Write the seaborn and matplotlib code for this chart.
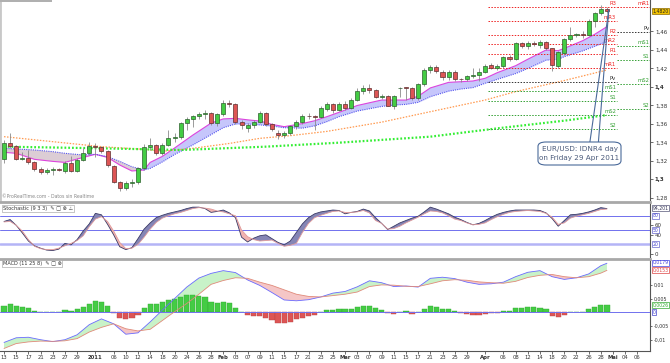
import numpy as np
import pandas as pd
import matplotlib
matplotlib.use("Agg")
import matplotlib.pyplot as plt
import seaborn as sns
from matplotlib.patches import FancyBboxPatch, Rectangle
import matplotlib.transforms as mtransforms

sns.set_theme(style="white")
plt.rcParams['font.family'] = ['DejaVu Sans']

# ---------------- data ----------------
dates = pd.bdate_range("2010-12-13", "2011-04-29")
axis_days = pd.bdate_range("2010-12-13", "2011-05-06")

opens = [1.3222,1.3391,1.3362,1.3222,1.3236,1.3185,1.3110,1.3085,1.3105,1.3108,
1.3090,1.3180,1.3088,1.3215,1.3290,1.3365,1.3348,1.3310,1.3150,1.2970,
1.2905,1.2965,1.2970,1.3120,1.3355,1.3370,1.3283,1.3373,1.3445,1.3457,
1.3610,1.3650,1.3686,1.3708,1.3718,1.3607,1.3708,1.3826,1.3815,1.3625,
1.3560,1.3589,1.3625,1.3718,1.3597,1.3502,1.3477,1.3502,1.3575,1.3618,
1.3690,1.3683,1.3680,1.3762,1.3820,1.3755,1.3820,1.3773,1.3863,1.3960,
1.3986,1.3964,1.3896,1.3900,1.3798,1.3985,1.3993,1.3986,1.3878,1.4030,
1.4184,1.4213,1.4166,1.4105,1.4166,1.4087,1.4083,1.4123,1.4130,1.4160,
1.4238,1.4202,1.4227,1.4328,1.4299,1.4475,1.4445,1.4479,1.4455,1.4490,
1.4418,1.4230,1.4364,1.4519,1.4562,1.4565,1.4562,1.4717,1.4797,1.4840]
closes = [1.3395,1.3362,1.3222,1.3236,1.3185,1.3110,1.3085,1.3105,1.3108,1.3105,
1.3180,1.3088,1.3215,1.3290,1.3365,1.3355,1.3310,1.3157,1.2970,1.2905,
1.2967,1.2975,1.3120,1.3348,1.3370,1.3283,1.3373,1.3445,1.3463,1.3607,
1.3650,1.3686,1.3708,1.3718,1.3607,1.3708,1.3826,1.3815,1.3625,1.3589,
1.3589,1.3625,1.3718,1.3597,1.3546,1.3477,1.3502,1.3575,1.3618,1.3690,
1.3683,1.3680,1.3772,1.3820,1.3755,1.3820,1.3773,1.3863,1.3960,1.3986,
1.3964,1.3896,1.3900,1.3798,1.3900,1.3993,1.3990,1.3878,1.4030,1.4184,
1.4213,1.4173,1.4105,1.4166,1.4087,1.4083,1.4120,1.4130,1.4160,1.4232,
1.4202,1.4227,1.4328,1.4299,1.4479,1.4445,1.4479,1.4460,1.4490,1.4420,
1.4238,1.4382,1.4519,1.4562,1.4565,1.4562,1.4717,1.4797,1.4840,1.4822]
highs = [1.3430,1.3500,1.3375,1.3300,1.3320,1.3195,1.3130,1.3120,1.3130,1.3125,
1.3200,1.3250,1.3235,1.3340,1.3400,1.3390,1.3365,1.3320,1.3160,1.2985,
1.2980,1.3000,1.3130,1.3380,1.3450,1.3380,1.3390,1.3535,1.3500,1.3620,
1.3680,1.3700,1.3730,1.3752,1.3730,1.3720,1.3860,1.3860,1.3830,1.3640,
1.3610,1.3640,1.3740,1.3725,1.3610,1.3530,1.3520,1.3590,1.3640,1.3710,
1.3720,1.3700,1.3790,1.3840,1.3830,1.3840,1.3850,1.3880,1.3990,1.4020,
1.4030,1.3980,1.3920,1.3910,1.3910,1.4000,1.4000,1.3995,1.4040,1.4200,
1.4240,1.4235,1.4180,1.4180,1.4180,1.4100,1.4130,1.4200,1.4210,1.4250,
1.4260,1.4250,1.4340,1.4350,1.4490,1.4490,1.4500,1.4500,1.4510,1.4500,
1.4425,1.4390,1.4530,1.4650,1.4580,1.4600,1.4730,1.4810,1.4886,1.4860]
lows = [1.3180,1.3345,1.3210,1.3210,1.3170,1.3090,1.3060,1.3060,1.3050,1.3090,
1.3065,1.3080,1.3080,1.3200,1.3270,1.3240,1.3290,1.3140,1.2960,1.2875,
1.2886,1.2915,1.2950,1.3100,1.3320,1.3260,1.3265,1.3360,1.3400,1.3440,
1.3535,1.3570,1.3650,1.3650,1.3590,1.3580,1.3690,1.3780,1.3600,1.3550,
1.3517,1.3560,1.3610,1.3580,1.3520,1.3440,1.3450,1.3480,1.3550,1.3600,
1.3650,1.3535,1.3660,1.3740,1.3720,1.3740,1.3750,1.3760,1.3850,1.3920,
1.3940,1.3880,1.3870,1.3790,1.3760,1.3895,1.3860,1.3860,1.3860,1.4010,
1.4150,1.4150,1.4080,1.4080,1.4070,1.4050,1.4060,1.4100,1.4060,1.4150,
1.4190,1.4180,1.4210,1.4280,1.4290,1.4420,1.4410,1.4440,1.4420,1.4400,
1.4170,1.4210,1.4350,1.4500,1.4540,1.4530,1.4550,1.4650,1.4780,1.4800]

# moving averages (bar index -> price)
ma_bars = [0,2,5,8,10,13,15,17,19,21,23,24,26,28,31,34,36,38,40,42,44,46,49,51,53,55,58,62,64,66,68,70,73,75,77,79,81,84,86,89,91,92,95,97,99]
ma_fast = [1.3294,1.3283,1.3218,1.3196,1.3185,1.3239,1.3272,1.3239,1.3157,1.3092,1.3103,1.3185,1.3250,1.3340,1.3480,1.3610,1.3655,1.3661,1.3645,1.3632,1.3596,1.3571,1.3605,1.3635,1.3679,1.3726,1.3800,1.3859,1.3859,1.3859,1.3900,1.3990,1.4050,1.4057,1.4065,1.4094,1.4155,1.4230,1.4300,1.4400,1.4393,1.4418,1.4500,1.4570,1.4652]
ma_slow = [1.3337,1.3330,1.3319,1.3301,1.3283,1.3265,1.3272,1.3247,1.3196,1.3138,1.3103,1.3120,1.3190,1.3270,1.3373,1.3485,1.3560,1.3600,1.3600,1.3590,1.3578,1.3560,1.3555,1.3580,1.3625,1.3679,1.3740,1.3790,1.3805,1.3812,1.3834,1.3895,1.3955,1.3978,1.3993,1.4040,1.4083,1.4145,1.4200,1.4290,1.4300,1.4328,1.4390,1.4440,1.4490]
ma50_bars = [0,8,16,23,26,31,37,42,47,53,62,70,79,84,92,99]
ma50 = [1.3463,1.3409,1.3355,1.3326,1.3305,1.3337,1.3390,1.3445,1.3474,1.3520,1.3620,1.3733,1.3859,1.3950,1.4070,1.4184]
ma200_bars = [0,16,29,43,55,70,81,92,99]
ma200 = [1.3355,1.3337,1.3319,1.3355,1.3398,1.3463,1.3553,1.3636,1.3697]

apr_piv_names = ["R3","mR3","R2","mR2","R1","mR1","Pv","mS1","S1","mS2","S2"]
apr_piv_vals = [1.4868,1.4714,1.4562,1.4462,1.4357,1.4209,1.4051,1.3957,1.3852,1.3697,1.3543]
may_piv_names = ["mR1","Pv","mS1","S1","mS2","S2"]
may_piv_vals = [1.4868,1.4591,1.4443,1.4292,1.4029,1.3762]

stoch_k = [68,72,60,44,27,17,12,8,7,10,22,19,30,48,63,85,82,62,40,15,
9,13,32,52,65,76,81,85,88,91,95,98,98,95,87,89,92,86,76,35,
25,33,38,40,32,24,19,27,45,63,76,84,88,90,92,91,84,87,89,94,
90,76,64,51,58,65,70,75,79,88,98,94,89,84,77,72,66,61,64,70,
77,83,87,90,92,92,92,92,91,86,74,58,70,82,83,85,88,92,97,95]
stoch_d = [67,68,60,48,30,16,11,9,9,12,17,22,28,38,57,73,78,68,48,24,
11,12,20,35,52,66,75,80,84,87,91,95,97,96,94,90,88,84,80,50,
36,30,27,28,29,22,16,18,22,45,64,76,81,85,89,90,87,87,88,91,
86,70,64,52,53,58,65,71,77,84,90,89,86,80,73,70,65,61,62,65,
72,78,83,87,89,90,91,90,89,85,77,62,65,75,79,82,85,89,93,94]

macd_bars = [0,2,4,6,8,10,12,14,16,18,20,22,24,26,28,30,32,34,36,38,40,42,44,46,48,50,52,54,56,58,60,62,64,66,68,70,72,74,76,78,80,82,84,86,88,90,92,94,96,98,99]
macd_line = [-0.0110,-0.0093,-0.0091,-0.0100,-0.0107,-0.0100,-0.0082,-0.0045,-0.0024,-0.0042,-0.0080,-0.0075,-0.0035,0.0008,0.0050,0.0092,0.0125,0.0142,0.0152,0.0145,0.0118,0.0098,0.0072,0.0045,0.0042,0.0046,0.0056,0.0070,0.0076,0.0093,0.0115,0.0108,0.0094,0.0096,0.0092,0.0124,0.0128,0.0123,0.0110,0.0102,0.0104,0.0110,0.0130,0.0146,0.0152,0.0130,0.0120,0.0126,0.0140,0.0170,0.0179]
macd_signal = [-0.0132,-0.0114,-0.0108,-0.0105,-0.0106,-0.0104,-0.0096,-0.0072,-0.0055,-0.0042,-0.0060,-0.0068,-0.0062,-0.0030,0.0002,0.0032,0.0066,0.0102,0.0116,0.0126,0.0124,0.0110,0.0098,0.0082,0.0066,0.0058,0.0056,0.0061,0.0066,0.0074,0.0094,0.0100,0.0099,0.0095,0.0094,0.0104,0.0115,0.0119,0.0117,0.0111,0.0108,0.0106,0.0113,0.0127,0.0135,0.0138,0.0130,0.0126,0.0130,0.0143,0.0153]
macd_hist = [0.0024,0.0029,0.0023,0.0021,0.0015,0.0005,0.0001,0.0000,0.0000,0.0002,
0.0008,0.0005,0.0013,0.0021,0.0029,0.0041,0.0038,0.0023,-0.0004,-0.0021,
-0.0023,-0.0019,-0.0011,0.0016,0.0030,0.0030,0.0038,0.0045,0.0050,0.0057,
0.0062,0.0062,0.0060,0.0056,0.0038,0.0035,0.0038,0.0035,0.0016,0.0000,
-0.0010,-0.0012,-0.0012,-0.0022,-0.0028,-0.0038,-0.0040,-0.0035,-0.0026,-0.0019,
-0.0013,-0.0009,0.0000,0.0009,0.0010,0.0012,0.0011,0.0013,0.0021,0.0023,
0.0023,0.0015,0.0009,-0.0003,-0.0006,0.0000,0.0003,-0.0006,0.0000,0.0013,
0.0022,0.0021,0.0013,0.0013,0.0005,-0.0004,-0.0007,-0.0010,-0.0009,-0.0005,
-0.0004,-0.0002,0.0004,0.0004,0.0017,0.0017,0.0019,0.0018,0.0017,0.0012,
-0.0012,-0.0018,-0.0010,0.0000,0.0002,0.0002,0.0012,0.0018,0.0027,0.0026]

tick_dates = ["2010-12-13","2010-12-15","2010-12-17","2010-12-21","2010-12-23","2010-12-27","2010-12-29",
"2011-01-03","2011-01-06","2011-01-10","2011-01-12","2011-01-14","2011-01-18","2011-01-20","2011-01-24","2011-01-26","2011-01-28",
"2011-02-01","2011-02-03","2011-02-07","2011-02-09","2011-02-11","2011-02-15","2011-02-17","2011-02-21","2011-02-23","2011-02-25",
"2011-03-01","2011-03-03","2011-03-07","2011-03-09","2011-03-11","2011-03-15","2011-03-17","2011-03-21","2011-03-23","2011-03-25","2011-03-29",
"2011-04-01","2011-04-06","2011-04-08","2011-04-12","2011-04-14","2011-04-18","2011-04-20","2011-04-22","2011-04-26","2011-04-28",
"2011-05-02","2011-05-04","2011-05-06"]
tick_text = ["13","15","17","21","23","27","29","2011","06","10","12","14","18","20","24","26","28",
"Feb","03","07","09","11","15","17","21","23","25",
"Mar","03","07","09","11","15","17","21","23","25","29",
"Apr","06","08","12","14","18","20","22","26","28","Mai","04","06"]
bold_ticks = {"2011","Feb","Mar","Apr","Mai"}

price_ticks = [1.28,1.30,1.32,1.34,1.36,1.38,1.40,1.42,1.44,1.46]
price_tick_text = ["1,28","1,3","1,32","1,34","1,36","1,38","1,4","1,42","1,44","1,46"]

# ---------------- layout ----------------
W, H = 670, 363
def rect(x0, y0, x1, y1):
    return [x0 / W, 1 - y1 / H, (x1 - x0) / W, (y1 - y0) / H]

fig = plt.figure(figsize=(6.7, 3.63), dpi=100)
fig.patch.set_facecolor("white")
ax = fig.add_axes(rect(0, 0, 650, 200))
ax_st = fig.add_axes(rect(0, 202, 650, 257))
ax_md = fig.add_axes(rect(0, 259, 650, 351))
XL = (-0.66, 106.07)
FS = 4.0
LFS = 3.3
GRAY = "#a8a8a8"

x = np.arange(len(closes))
o = np.array(opens); c = np.array(closes); h = np.array(highs); l = np.array(lows)

for a in (ax, ax_st, ax_md):
    a.set_xlim(*XL)
    a.set_facecolor("white")
    for s in a.spines.values():
        s.set_visible(False)
    a.spines["right"].set_visible(True)
    a.spines["right"].set_color("#555555")
    a.spines["right"].set_linewidth(0.8)
    a.yaxis.tick_right()
    a.tick_params(axis="y", direction="out", length=2, width=0.5, pad=1.5,
                  labelsize=FS, colors="#333333")
    a.tick_params(axis="x", bottom=False, labelbottom=False)
    a.grid(False)

# ---------------- main price panel ----------------
ax.set_ylim(1.40 - 113 / 925, 1.40 + 87 / 925)
ax.spines["left"].set_visible(True)
ax.spines["left"].set_color("#c8c8c8")
ax.spines["left"].set_linewidth(2)

mf = np.array(ma_fast); ms = np.array(ma_slow)
ax.fill_between(ma_bars, mf, ms, where=mf >= ms, interpolate=True, color="#c6c6fb", lw=0, zorder=1)
ax.fill_between(ma_bars, mf, ms, where=mf < ms, interpolate=True, color="#dccdd5", lw=0, zorder=1)
sns.lineplot(x=ma_bars, y=ma_fast, ax=ax, color="#dd44dd", lw=0.8, estimator=None, zorder=2)
sns.lineplot(x=ma_bars, y=ma_slow, ax=ax, color="#5555ee", lw=0.8, estimator=None, zorder=2,
             linestyle=(0, (1, 1)))
sns.lineplot(x=ma50_bars, y=ma50, ax=ax, color="#ff9a50", lw=0.9, estimator=None, zorder=2,
             linestyle=(0, (1.2, 1.2)))
sns.lineplot(x=ma200_bars, y=ma200, ax=ax, color="#33ee33", lw=1.6, estimator=None, zorder=2,
             linestyle=(0, (0.8, 0.9)))

# pivot lines
def piv_color(n):
    if "R" in n:
        return "#ee2222"
    if n == "Pv":
        return "#333333"
    return "#33a033"
for n, v in zip(apr_piv_names, apr_piv_vals):
    col = piv_color(n)
    ax.plot([79.4, 100.6], [v, v], color=col, lw=0.7, ls=(0, (1.5, 1.5)), zorder=2)
    ax.text(100.5, v + 0.0012, n, color=col, fontsize=3.8, ha="right", va="bottom", zorder=5)
for n, v in zip(may_piv_names, may_piv_vals):
    col = piv_color(n)
    ax.plot([100.6, XL[1]], [v, v], color=col, lw=0.7, ls=(0, (1.5, 1.5)), zorder=2)
    ax.text(106.0, v + 0.0012, n, color=col, fontsize=3.8, ha="right", va="bottom", zorder=5)

# candles
up = c >= o
ax.vlines(x, l, h, color="#8a8a8a", lw=0.6, zorder=3)
body = np.maximum(np.abs(c - o), 0.0008)
bottom = np.minimum(o, c)
ax.bar(x[up], body[up], bottom=bottom[up], width=0.66, color="#44cc44", edgecolor="#2e5e2e", lw=0.5, zorder=4)
ax.bar(x[~up], body[~up], bottom=bottom[~up], width=0.66, color="#dd5555", edgecolor="#5e2e2e", lw=0.5, zorder=4)

ax.set_yticks(price_ticks)
ax.set_yticklabels(price_tick_text)
for t in ax.get_yticklabels():
    if t.get_text() in ("1,3", "1,4"):
        t.set_fontweight("bold")

# last price box
tr = mtransforms.blended_transform_factory(ax.transAxes, ax.transData)
ax.text(1.004, closes[-1], "1,4820", transform=tr, fontsize=LFS, va="center", ha="left", color="#222222",
        bbox=dict(boxstyle="square,pad=0.1", fc="#f2c200", ec="#8a6a00", lw=0.5), zorder=6, clip_on=False)

# callout
ax.plot([96.2, 99.3], [1.3405, 1.4830], color="#4a6a9a", lw=0.8, zorder=6)
ax.plot([97.6, 99.3], [1.3405, 1.4830], color="#4a6a9a", lw=0.8, zorder=6)
fig.patches.append(FancyBboxPatch((538 / W, 1 - 165 / H), 83 / W, 23 / H,
                                  boxstyle="round,pad=0,rounding_size=0.012",
                                  transform=fig.transFigure, fc="white", ec="#4a6a9a", lw=0.8, zorder=10))
fig.text(579.5 / W, 1 - 149.5 / H, "EUR/USD: IDNR4 day", fontsize=5.2, color="#4a5a7a",
         ha="center", va="center", zorder=11)
fig.text(579.5 / W, 1 - 158 / H, "on Friday 29 Apr 2011", fontsize=5.2, color="#4a5a7a",
         ha="center", va="center", zorder=11)

ax.text(0.003, 0.005, "©ProRealTime.com - Datos sin Realtime", transform=ax.transAxes, fontsize=3.3,
        color="#888888", ha="left", va="bottom")

# ---------------- stochastic panel ----------------
ax_st.set_ylim(-6.5, 108.8)
ax_st.spines["top"].set_visible(True)
ax_st.spines["top"].set_color(GRAY)
ax_st.spines["top"].set_linewidth(2)
ax_st.axhline(80, color="#7070ee", lw=0.7, zorder=1)
ax_st.axhline(50, color="#7070ee", lw=0.7, zorder=1)
ax_st.axhline(20, color="#b4b4f6", lw=1.8, zorder=1)
k = np.array(stoch_k, float); d = np.array(stoch_d, float)
ax_st.fill_between(x, k, d, where=k >= d, interpolate=True, color="#8585b5", lw=0, zorder=2)
ax_st.fill_between(x, k, d, where=k < d, interpolate=True, color="#f0b4b0", lw=0, zorder=2)
sns.lineplot(x=x, y=k, ax=ax_st, color="#3a3a66", lw=0.6, estimator=None, zorder=3)
sns.lineplot(x=x, y=d, ax=ax_st, color="#e09a9a", lw=0.6, estimator=None, zorder=3)
ax_st.set_yticks([0, 40, 60])
ax_st.set_yticklabels(["0", "40", "60"])
trs = mtransforms.blended_transform_factory(ax_st.transAxes, ax_st.transData)
for val, txt in [(80, "80"), (50, "50"), (20, "20")]:
    ax_st.text(1.004, val, txt, transform=trs, fontsize=LFS, color="#4444cc", va="center", ha="left",
               bbox=dict(boxstyle="square,pad=0.1", fc="white", ec="#6666cc", lw=0.5), clip_on=False)
ax_st.text(1.004, 96, "94,201", transform=trs, fontsize=LFS, color="#333355", va="center", ha="left",
           bbox=dict(boxstyle="square,pad=0.1", fc="white", ec="#555577", lw=0.5), clip_on=False)
ax_st.text(0.004, 0.93, "Stochastic (9 3 3)  \u270e \u25a1 \u2297 \u26a0", transform=ax_st.transAxes,
           fontsize=3.6, color="#333333", ha="left", va="top",
           bbox=dict(boxstyle="square,pad=0.2", fc="white", ec="#999999", lw=0.4))

# ---------------- MACD panel ----------------
ax_md.set_ylim(-0.01412, 0.01945)
ax_md.spines["top"].set_visible(True)
ax_md.spines["top"].set_color(GRAY)
ax_md.spines["top"].set_linewidth(2)
ax_md.spines["bottom"].set_visible(True)
ax_md.spines["bottom"].set_color("#555555")
ax_md.spines["bottom"].set_linewidth(0.8)
hist = np.array(macd_hist)
ax_md.bar(x[hist >= 0], hist[hist >= 0], width=0.85, color="#44cc44", edgecolor="#33aa33", lw=0.3, zorder=2)
ax_md.bar(x[hist < 0], hist[hist < 0], width=0.85, color="#dd5555", edgecolor="#bb4444", lw=0.3, zorder=2)
ax_md.axhline(0, color="#7070ee", lw=0.7, zorder=3)
ml = np.array(macd_line); sl = np.array(macd_signal)
ax_md.fill_between(macd_bars, ml, sl, where=ml >= sl, interpolate=True, color="#c8f2c8", lw=0, zorder=1)
ax_md.fill_between(macd_bars, ml, sl, where=ml < sl, interpolate=True, color="#f5c6c6", lw=0, zorder=1)
sns.lineplot(x=macd_bars, y=macd_line, ax=ax_md, color="#6a6aff", lw=0.6, estimator=None, zorder=3)
sns.lineplot(x=macd_bars, y=macd_signal, ax=ax_md, color="#e08a7a", lw=0.6, estimator=None, zorder=3)
ax_md.set_yticks([-0.01, -0.005, 0.005, 0.01])
ax_md.set_yticklabels(["-0,01", "-0,005", "0,005", "0,01"])
ax_md.tick_params(axis="y", labelsize=3.4, pad=1, length=1.5)
trm = mtransforms.blended_transform_factory(ax_md.transAxes, ax_md.transData)
for val, txt, col in [(0.0181, "0,0179", "#4444dd"), (0.0154, "0,0153", "#dd4444"),
                      (0.0027, "0,0026", "#33aa33"), (0.0, "0", "#4444cc")]:
    ax_md.text(1.004, val, txt, transform=trm, fontsize=LFS, color=col, va="center", ha="left",
               bbox=dict(boxstyle="square,pad=0.1", fc="white", ec=col, lw=0.5), clip_on=False)
ax_md.text(0.004, 0.975, "MACD (11 25 8)  \u270e \u25a1 \u2297", transform=ax_md.transAxes,
           fontsize=3.6, color="#333333", ha="left", va="top",
           bbox=dict(boxstyle="square,pad=0.2", fc="white", ec="#999999", lw=0.4))

# x ticks
pos = [axis_days.get_loc(pd.Timestamp(t)) for t in tick_dates]
ax_md.set_xticks(pos)
ax_md.set_xticklabels(tick_text)
ax_md.tick_params(axis="x", bottom=True, labelbottom=True, direction="out", length=2, width=0.5,
                  pad=1, labelsize=3.8, colors="#333333")
for t in ax_md.get_xticklabels():
    if t.get_text() in bold_ticks:
        t.set_fontweight("bold")

# top-left tab
fig.patches.append(Rectangle((0, 1 - 1.5 / H), 52 / W, 1.5 / H, transform=fig.transFigure,
                             fc="#b0b0b0", ec="none", zorder=10))

fig.savefig("out.png", dpi=100)
